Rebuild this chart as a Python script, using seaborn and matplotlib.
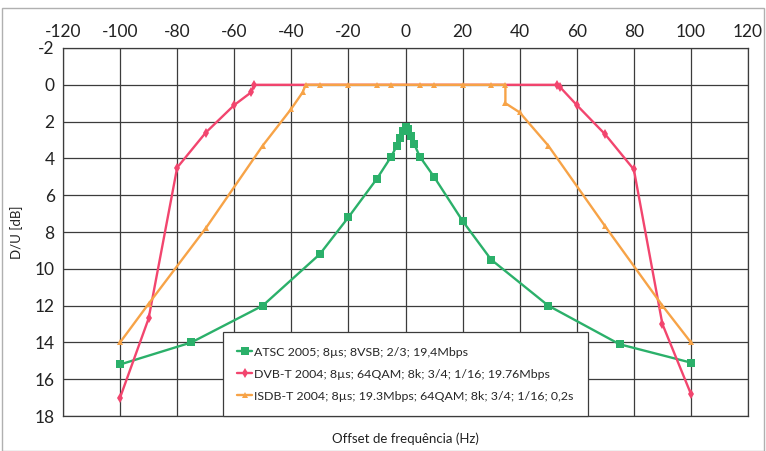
import matplotlib
matplotlib.use("Agg")
import matplotlib.pyplot as plt
from matplotlib.patches import Rectangle
import seaborn as sns
import pandas as pd

# Frequency offset (Hz) vs. D/U (dB) for each system
atsc_x = [-100, -75, -50, -30, -20, -10, -5, -3, -2, -1, 0, 1, 2, 3, 5, 10, 20, 30, 50, 75, 100]
atsc_y = [15.2, 14.0, 12.0, 9.2, 7.2, 5.1, 3.9, 3.3, 2.9, 2.5, 2.3, 2.4, 2.8, 3.2, 3.9, 5.0, 7.4, 9.5, 12.0, 14.1, 15.1]

dvb_x = [-100, -90, -80, -70, -60, -54, -53, 53, 54, 60, 70, 80, 90, 100]
dvb_y = [17.0, 12.7, 4.5, 2.6, 1.1, 0.4, 0.0, 0.0, 0.1, 1.1, 2.7, 4.6, 13.0, 16.8]

isdb_x = [-100, -90, -70, -50, -40, -36, -35, -30, -20, -10, -5, 5, 10, 20, 30, 35, 35, 40, 50, 70, 90, 100]
isdb_y = [14.0, 11.9, 7.8, 3.3, 1.3, 0.4, 0.0, 0.0, 0.0, 0.0, 0.0, 0.0, 0.0, 0.0, 0.0, 0.0, 1.0, 1.5, 3.3, 7.7, 12.0, 14.0]

labels = [
    "ATSC 2005; 8\u00b5s; 8VSB; 2/3; 19,4Mbps",
    "DVB-T 2004; 8\u00b5s; 64QAM; 8k; 3/4; 1/16; 19.76Mbps",
    "ISDB-T 2004; 8\u00b5s; 19.3Mbps; 64QAM; 8k; 3/4; 1/16; 0,2s",
]
colors = ["#2bb06a", "#f2456e", "#f7a347"]

x_ticks = list(range(-120, 121, 20))
y_ticks = list(range(-2, 19, 2))

sns.set_theme(style="white")
plt.rcParams["font.family"] = ["Lato", "DejaVu Sans"]

fig = plt.figure(figsize=(7.66, 4.51), dpi=100)
ax = fig.add_axes([63 / 766, 1 - 416 / 451, (748 - 63) / 766, (416 - 48) / 451])

series = [
    (atsc_x, atsc_y, "s", 6),
    (dvb_x, dvb_y, "d", 5),
    (isdb_x, isdb_y, "^", 5),
]
for (xs, ys, mk, ms), lab, col in zip(series, labels, colors):
    df = pd.DataFrame({"offset": xs, "du": ys})
    sns.lineplot(data=df, x="offset", y="du", ax=ax, sort=False, estimator=None,
                 color=col, marker=mk, markersize=ms, markeredgewidth=0,
                 linewidth=1.7, label=lab)

ax.set_xlim(-120, 120)
ax.set_ylim(18, -2)
ax.set_xticks(x_ticks)
ax.set_yticks(y_ticks)
ax.set_xticklabels([str(v) for v in x_ticks])
ax.set_yticklabels([str(v) for v in y_ticks])
ax.xaxis.tick_top()
ax.tick_params(axis="both", length=0, labelsize=12.5, colors="#222222", pad=6)
ax.grid(True, color="#3c3c3c", linewidth=0.9)
ax.set_axisbelow(True)
for s in ax.spines.values():
    s.set_color("#3c3c3c")
    s.set_linewidth(0.9)

ax.set_xlabel("")
ax.set_ylabel("D/U [dB]", fontsize=9.5, color="#222222", labelpad=8)
fig.text((63 + 748) / 2 / 766, 1 - 439 / 451, "Offset de frequ\u00eancia (Hz)",
         ha="center", va="center", fontsize=9.5, color="#222222")

leg = ax.legend(loc="lower left", bbox_to_anchor=(0.2336, 0.0), borderaxespad=0,
                fancybox=False, framealpha=1, edgecolor="#3c3c3c", fontsize=8.9,
                handlelength=1.2, handletextpad=0.15, borderpad=1.15, labelspacing=0.9)
leg.get_frame().set_linewidth(0.9)

fig.patches.append(Rectangle((0.002, 0.0), 0.996, 1 - 8 / 451, transform=fig.transFigure,
                             fill=False, edgecolor="#b0b0b0", linewidth=1.0))

fig.savefig("out.png", dpi=100)
